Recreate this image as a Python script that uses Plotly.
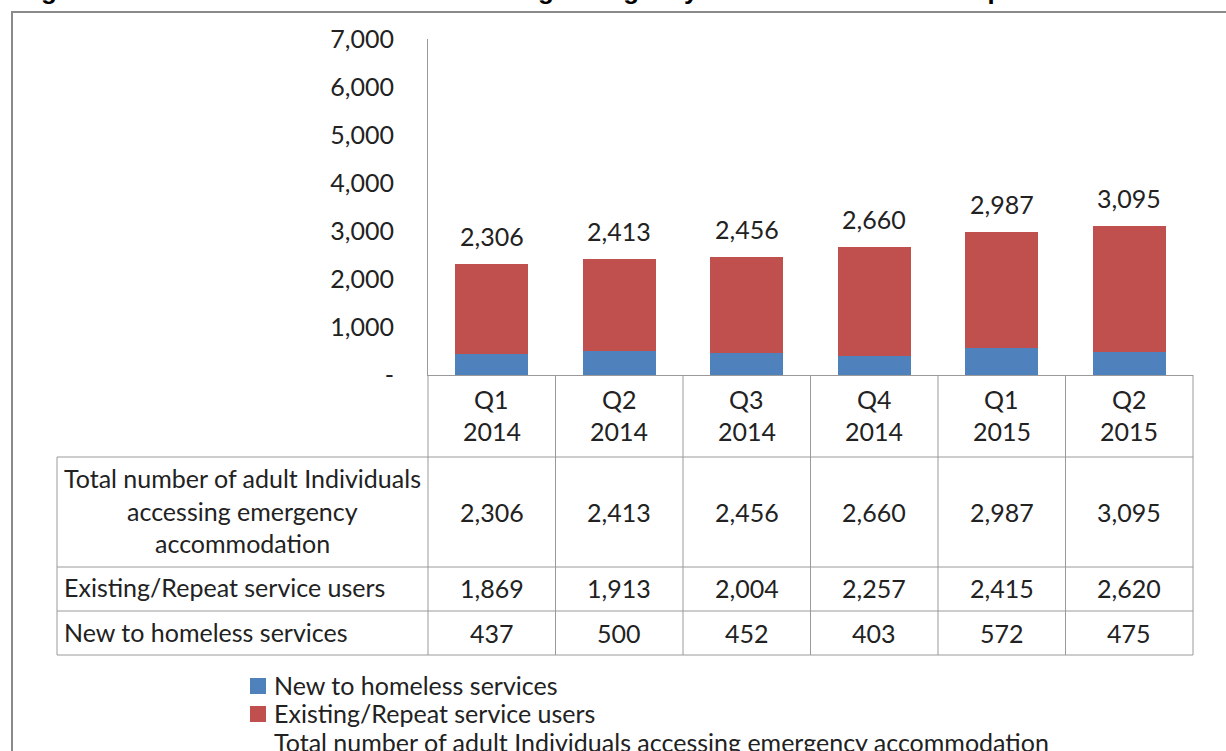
import plotly.graph_objects as go

# ---- data ----
quarters = ["Q1 2014", "Q2 2014", "Q3 2014", "Q4 2014", "Q1 2015", "Q2 2015"]
new_users = [437, 500, 452, 403, 572, 475]
existing_users = [1869, 1913, 2004, 2257, 2415, 2620]
totals = [2306, 2413, 2456, 2660, 2987, 3095]
y_tick_vals = [0, 1000, 2000, 3000, 4000, 5000, 6000, 7000]
y_tick_text = ["-", "1,000", "2,000", "3,000", "4,000", "5,000", "6,000", "7,000"]
series_names = ["New to homeless services", "Existing/Repeat service users",
                "Total number of adult Individuals accessing emergency accommodation"]
total_row_lines = ["Total number of adult Individuals", "accessing emergency", "accommodation"]
title_text = "Figure 3: Number of adult Individuals using emergency accommodation each quarter"

BLUE = "#4F81BD"
RED = "#C0504D"
TXT = "#222222"
GRID = "#9a9a9a"
FONT = "Lato"
FS = 25

W, H = 1226, 751
L, R, T, B = 428, 1193, 39, 375


def px(x):
    return (x - L) / (R - L)


def py(y):
    return (B - y) / (B - T)


fig = go.Figure()
fig.add_trace(go.Bar(x=quarters, y=new_users, name=series_names[0], marker_color=BLUE,
                     marker_line_width=0, showlegend=False))
fig.add_trace(go.Bar(x=quarters, y=existing_users, name=series_names[1], marker_color=RED,
                     marker_line_width=0, showlegend=False))

annotations = []
shapes = []


def txt_font():
    return dict(size=FS, color=TXT, family=FONT)


# total labels above bars
for q, t in zip(quarters, totals):
    annotations.append(dict(x=q, y=t, xref="x", yref="y", text=f"{t:,}", showarrow=False,
                            yshift=28, yanchor="middle", xanchor="center", font=txt_font()))

n = len(quarters)
# table grid
row_bounds = [457, 567, 611, 655]
for i in range(n + 1):
    shapes.append(dict(type="line", xref="paper", yref="paper", x0=i / n, x1=i / n,
                       y0=py(B), y1=py(655), line=dict(color=GRID, width=1)))
shapes.append(dict(type="line", xref="paper", yref="paper", x0=px(57), x1=px(57),
                   y0=py(457), y1=py(655), line=dict(color=GRID, width=1)))
for yb in row_bounds:
    shapes.append(dict(type="line", xref="paper", yref="paper", x0=px(57), x1=1,
                       y0=py(yb), y1=py(yb), line=dict(color=GRID, width=1)))

# header category labels
for i, q in enumerate(quarters):
    a, b = q.split(" ")
    for txt, yy in ((a, 399), (b, 431)):
        annotations.append(dict(x=(i + 0.5) / n, y=py(yy), xref="paper", yref="paper", text=txt,
                                showarrow=False, yanchor="middle", xanchor="center", font=txt_font()))

# row labels
for txt, yy in zip(total_row_lines, (478, 511, 543)):
    annotations.append(dict(x=px(242), y=py(yy), xref="paper", yref="paper", text=txt,
                            showarrow=False, yanchor="middle", xanchor="center", font=txt_font()))
for txt, yy in ((series_names[1], 587), (series_names[0], 632)):
    annotations.append(dict(x=px(62), y=py(yy), xref="paper", yref="paper", text=txt,
                            showarrow=False, yanchor="middle", xanchor="left", font=txt_font()))

# row values
for vals, yy in ((totals, 512), (existing_users, 588), (new_users, 633)):
    for i, v in enumerate(vals):
        annotations.append(dict(x=(i + 0.5) / n, y=py(yy), xref="paper", yref="paper", text=f"{v:,}",
                                showarrow=False, yanchor="middle", xanchor="center", font=txt_font()))

# legend (manual)
for col, yy in ((BLUE, 686), (RED, 714)):
    shapes.append(dict(type="rect", xref="paper", yref="paper", x0=px(250), x1=px(266),
                       y0=py(yy - 8), y1=py(yy + 8), fillcolor=col, line=dict(width=0)))
for txt, yy in zip(series_names, (685, 713, 742)):
    annotations.append(dict(x=px(272), y=py(yy), xref="paper", yref="paper", text=txt,
                            showarrow=False, yanchor="middle", xanchor="left", font=txt_font()))

# outer frame
shapes.append(dict(type="rect", xref="paper", yref="paper", x0=px(12), x1=px(1260),
                   y0=py(12), y1=py(800), line=dict(color="#8a8a8a", width=2), layer="below"))

# title (cut off at the top in the reference)
annotations.append(dict(x=px(16), y=py(7), xref="paper", yref="paper", text="<b>" + title_text + "</b>",
                        showarrow=False, xanchor="left", yanchor="bottom",
                        font=dict(size=26, color="#000000", family="Liberation Sans")))

fig.update_layout(
    width=W, height=H,
    barmode="stack", bargap=0.43,
    margin=dict(l=L, r=W - R, t=T, b=H - B, autoexpand=False),
    paper_bgcolor="white", plot_bgcolor="white",
    showlegend=False,
    annotations=annotations, shapes=shapes,
    font=dict(family=FONT, size=FS, color=TXT),
)
fig.update_yaxes(range=[0, 7000], tickvals=y_tick_vals, ticktext=y_tick_text, showgrid=False,
                 zeroline=False, showline=True, linecolor=GRID, linewidth=1,
                 ticks="", ticklabelstandoff=28, tickfont=txt_font())
fig.update_xaxes(range=[-0.5, n - 0.5], showticklabels=False, showgrid=False, zeroline=False,
                 showline=True, linecolor=GRID, linewidth=1, ticks="")

fig.write_html("out.html")
